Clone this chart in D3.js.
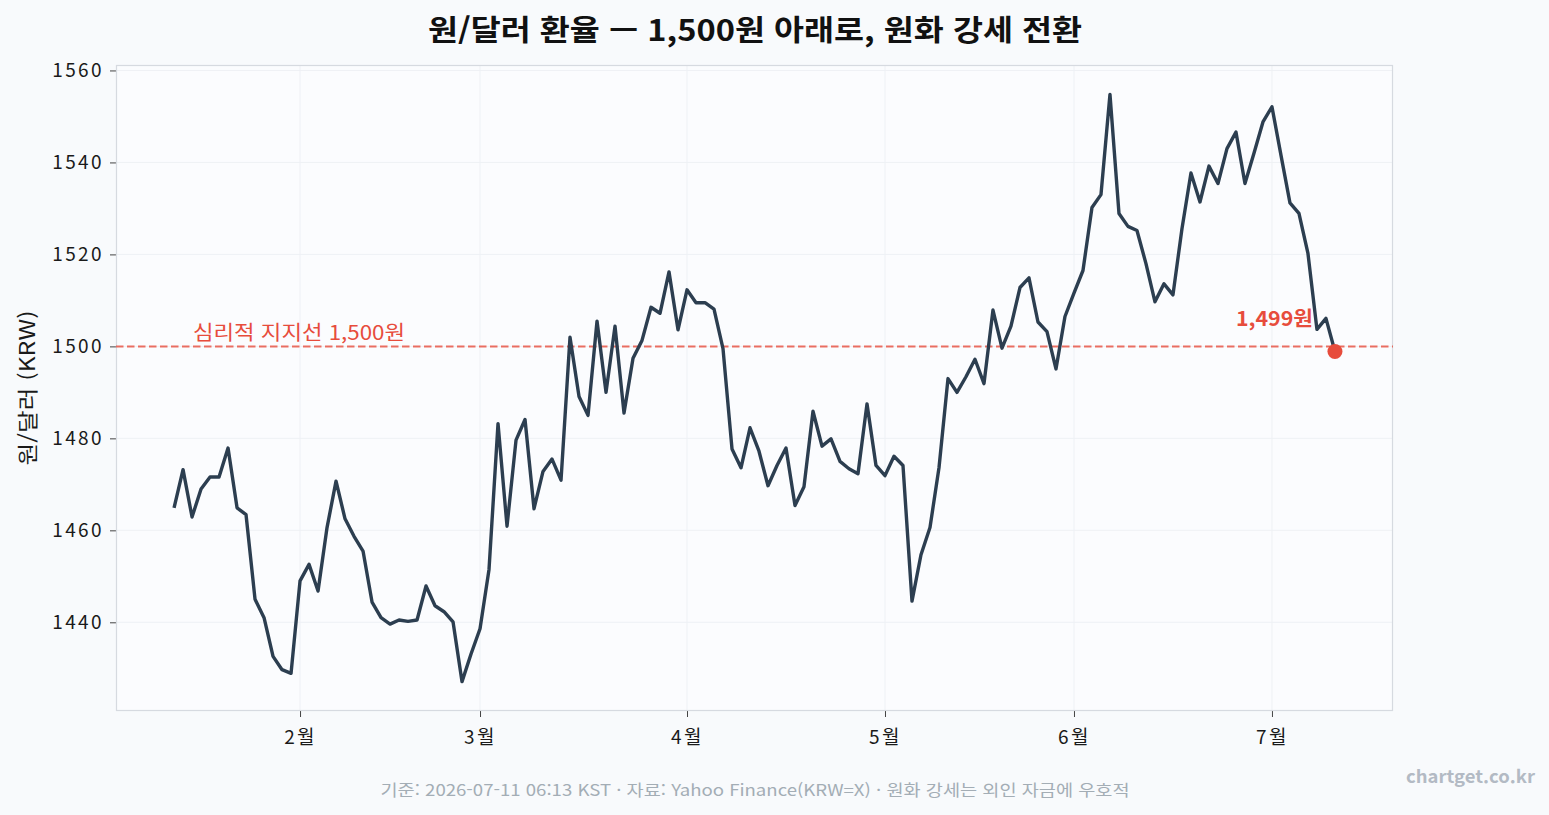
<!DOCTYPE html>
<html lang="ko">
<head>
<meta charset="utf-8">
<script src="https://cdn.jsdelivr.net/npm/d3@7"></script>
<style>
  html, body { margin: 0; padding: 0; background: #f8fafc; }
  svg { display: block; font-family: "Noto Sans CJK KR", "Noto Sans", sans-serif; }
</style>
</head>
<body>
<div id="chart"></div>
<script>
// 원/달러 종가 (거래일 기준, 1/13 ~ 7/10)
const rates = [
  1464.9, 1473.2, 1462.9, 1469.0, 1471.6, 1471.6, 1477.9, 1464.9, 1463.4, 1445.0,
  1441.0, 1432.6, 1429.7, 1428.9, 1449.0, 1452.6, 1446.8, 1460.6, 1470.7, 1462.5,
  1458.7, 1455.5, 1444.4, 1441.0, 1439.6, 1440.5, 1440.2, 1440.5, 1447.9, 1443.6,
  1442.3, 1440.1, 1427.1, 1433.1, 1438.6, 1451.5, 1483.2, 1460.9, 1479.6, 1484.1,
  1464.7, 1472.8, 1475.5, 1470.9, 1502.0, 1489.1, 1485.0, 1505.5, 1490.0, 1504.4,
  1485.5, 1497.4, 1501.3, 1508.5, 1507.2, 1516.2, 1503.6, 1512.3, 1509.5, 1509.5,
  1508.1, 1499.5, 1477.7, 1473.6, 1482.3, 1477.2, 1469.7, 1474.1, 1477.9, 1465.4,
  1469.5, 1485.9, 1478.3, 1479.9, 1475.0, 1473.4, 1472.3, 1487.5, 1474.1, 1471.9,
  1476.1, 1474.1, 1444.6, 1454.7, 1460.6, 1473.6, 1493.0, 1490.0, 1493.4, 1497.2,
  1491.9, 1507.9, 1499.6, 1504.4, 1512.8, 1514.9, 1505.3, 1503.2, 1495.1, 1506.5,
  1511.6, 1516.5, 1530.2, 1533.0, 1554.8, 1528.9, 1526.1, 1525.2, 1518.0, 1509.7,
  1513.6, 1511.2, 1525.6, 1537.7, 1531.4, 1539.2, 1535.4, 1543.0, 1546.6, 1535.4,
  1542.0, 1548.8, 1552.1, 1541.6, 1531.2, 1528.9, 1520.2, 1503.7, 1506.1, 1498.9
];

// 각 월 첫 거래일의 인덱스
const monthTickIndex = [14, 34, 57, 79, 100, 122];
const monthTickLabels = ["2월", "3월", "4월", "5월", "6월", "7월"];
const yTicks = [1440, 1460, 1480, 1500, 1520, 1540, 1560];

const supportLevel = 1500;
const supportLabel = "심리적 지지선 1,500원";
const titleText = "원/달러 환율 — 1,500원 아래로, 원화 강세 전환";
const yAxisTitle = "원/달러 (KRW)";
const footerText = "기준: 2026-07-11 06:13 KST · 자료: Yahoo Finance(KRW=X) · 원화 강세는 외인 자금에 우호적";
const watermark = "chartget.co.kr";

const width = 1549, height = 815;
const plot = { left: 116, right: 1393, top: 65, bottom: 711 };

const svg = d3.select("#chart").append("svg")
    .attr("width", width)
    .attr("height", height);

svg.append("rect").attr("width", width).attr("height", height).attr("fill", "#f8fafc");

// matplotlib 식 5% 여백
const n = rates.length;
const xPad = (n - 1) * 0.05;
const x = d3.scaleLinear()
    .domain([-xPad, n - 1 + xPad])
    .range([plot.left, plot.right]);

const yMin = d3.min(rates), yMax = d3.max(rates);
const yPad = (yMax - yMin) * 0.05;
const y = d3.scaleLinear()
    .domain([yMin - yPad, yMax + yPad])
    .range([plot.bottom, plot.top]);

svg.append("rect")
    .attr("x", plot.left).attr("y", plot.top)
    .attr("width", plot.right - plot.left)
    .attr("height", plot.bottom - plot.top)
    .attr("fill", "#fbfcfe");

// grid
const grid = svg.append("g").attr("class", "grid");
grid.selectAll("line.h").data(yTicks).enter().append("line")
    .attr("x1", plot.left).attr("x2", plot.right)
    .attr("y1", d => y(d)).attr("y2", d => y(d))
    .attr("stroke", "#eef1f5").attr("stroke-width", 1);
grid.selectAll("line.v").data(monthTickIndex).enter().append("line")
    .attr("y1", plot.top).attr("y2", plot.bottom)
    .attr("x1", d => x(d)).attr("x2", d => x(d))
    .attr("stroke", "#eef1f5").attr("stroke-width", 1);

// axes
const yAxis = svg.append("g")
    .attr("transform", `translate(${plot.left},0)`)
    .call(d3.axisLeft(y).tickValues(yTicks).tickSize(6).tickPadding(6).tickFormat(d3.format("d")));
const xAxis = svg.append("g")
    .attr("transform", `translate(0,${plot.bottom})`)
    .call(d3.axisBottom(x).tickValues(monthTickIndex).tickSize(6).tickPadding(14)
        .tickFormat((d, i) => monthTickLabels[i]));

[yAxis, xAxis].forEach(ax => {
    ax.select(".domain").remove();
    ax.selectAll(".tick line").attr("stroke", "#444").attr("stroke-width", 1);
    ax.selectAll(".tick text")
        .attr("fill", "#1a1a1a")
        .attr("font-size", "19px")
        .attr("letter-spacing", "2.4px")
        .attr("font-family", "'Noto Sans CJK KR', sans-serif");
});

// frame
svg.append("rect")
    .attr("x", plot.left + 0.5).attr("y", plot.top + 0.5)
    .attr("width", plot.right - plot.left - 1)
    .attr("height", plot.bottom - plot.top - 1)
    .attr("fill", "none")
    .attr("stroke", "#d6dae0")
    .attr("stroke-width", 1.2);

// support line
svg.append("line")
    .attr("x1", plot.left).attr("x2", plot.right)
    .attr("y1", y(supportLevel)).attr("y2", y(supportLevel))
    .attr("stroke", "#e74c3c")
    .attr("stroke-opacity", 0.8)
    .attr("stroke-width", 2)
    .attr("stroke-dasharray", "7.5,3.5");

svg.append("text")
    .attr("x", 193)
    .attr("y", y(supportLevel) - 6)
    .attr("fill", "#e74c3c")
    .attr("font-size", "20px")
    .attr("textLength", 212)
    .attr("lengthAdjust", "spacingAndGlyphs")
    .text(supportLabel);

// line
const line = d3.line()
    .x((d, i) => x(i))
    .y(d => y(d));

svg.append("path")
    .datum(rates)
    .attr("fill", "none")
    .attr("stroke", "#2c3e50")
    .attr("stroke-width", 3.4)
    .attr("stroke-linejoin", "round")
    .attr("d", line);

// last point
const last = rates[n - 1];
svg.append("circle")
    .attr("cx", x(n - 1))
    .attr("cy", y(last))
    .attr("r", 7.5)
    .attr("fill", "#e74c3c");

svg.append("text")
    .attr("x", x(n - 1) - 22)
    .attr("y", y(last) - 25)
    .attr("text-anchor", "end")
    .attr("fill", "#e74c3c")
    .attr("font-size", "20px")
    .attr("font-weight", "bold")
    .attr("textLength", 77)
    .attr("lengthAdjust", "spacingAndGlyphs")
    .text(d3.format(",")(Math.round(last)) + "원");

// titles
svg.append("text")
    .attr("x", 755)
    .attr("y", 41)
    .attr("text-anchor", "middle")
    .attr("fill", "#111")
    .attr("font-size", "29px")
    .attr("font-weight", "bold")
    .attr("textLength", 654)
    .attr("lengthAdjust", "spacingAndGlyphs")
    .text(titleText);

svg.append("text")
    .attr("transform", `translate(35,${388}) rotate(-90)`)
    .attr("text-anchor", "middle")
    .attr("fill", "#1a1a1a")
    .attr("font-size", "21px")
    .attr("textLength", 155)
    .attr("lengthAdjust", "spacingAndGlyphs")
    .text(yAxisTitle);

svg.append("text")
    .attr("x", 755)
    .attr("y", 796)
    .attr("text-anchor", "middle")
    .attr("fill", "#a3adb5")
    .attr("font-size", "16px")
    .attr("textLength", 749)
    .attr("lengthAdjust", "spacingAndGlyphs")
    .text(footerText);

svg.append("text")
    .attr("x", 1535)
    .attr("y", 783)
    .attr("text-anchor", "end")
    .attr("fill", "#b3bac4")
    .attr("font-size", "18px")
    .attr("font-weight", "bold")
    .attr("textLength", 129)
    .attr("lengthAdjust", "spacingAndGlyphs")
    .text(watermark);
</script>
</body>
</html>
